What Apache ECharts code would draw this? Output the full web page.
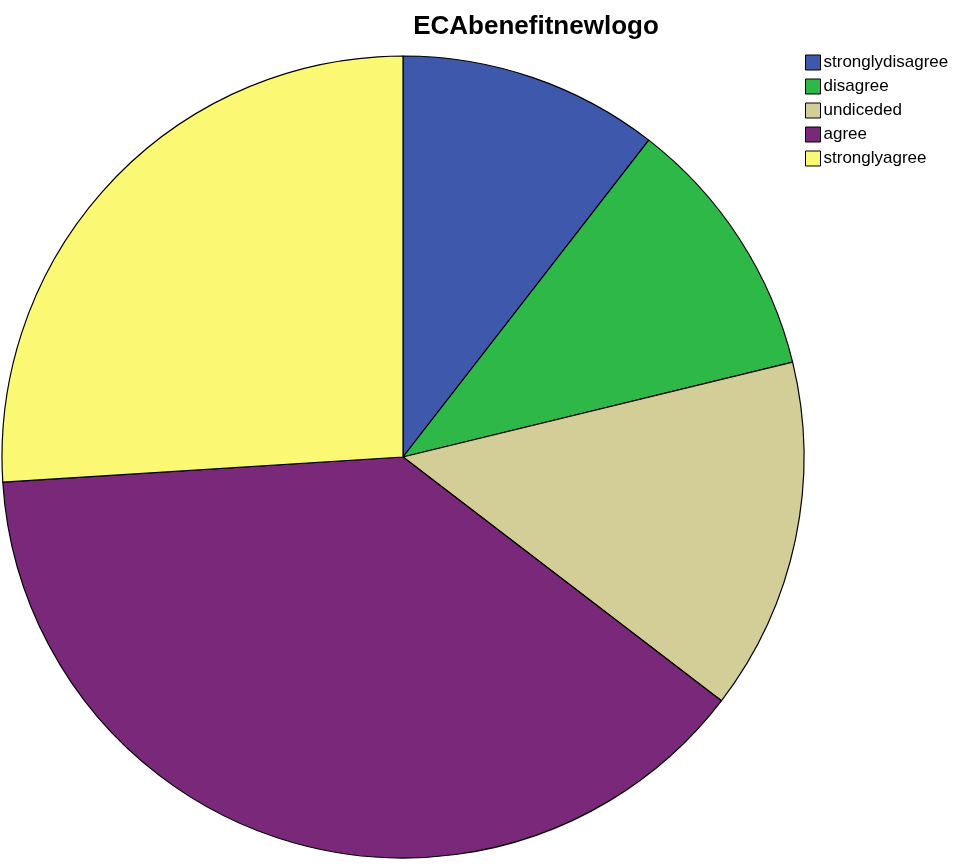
<!DOCTYPE html>
<html>
<head>
<meta charset="utf-8">
<script src="https://cdn.jsdelivr.net/npm/echarts@6/dist/echarts.min.js"></script>
<style>
html, body { margin: 0; padding: 0; background: #fff; }
#mainContent { width: 965px; height: 867px; }
</style>
</head>
<body>
<div id="mainContent"></div>
<script>
// categories and percentages
var categories = ['stronglydisagree', 'disagree', 'undiceded', 'agree', 'stronglyagree'];
var values = [10.5, 10.7, 14.2, 38.6, 26.0];
var colors = ['#3E58AC', '#2EB848', '#D3CE97', '#7A287A', '#FBF873'];

var myChart = echarts.init(document.getElementById('mainContent'));

var data = [];
for (var i = 0; i < categories.length; i++) {
    data.push({
        name: categories[i],
        value: values[i],
        itemStyle: { color: colors[i] }
    });
}

option = {
    animation: false,
    title: {
        text: 'ECAbenefitnewlogo',
        left: 531,
        top: 9,
        textAlign: 'center',
        textStyle: {
            fontFamily: 'Liberation Sans, Arial, sans-serif',
            fontSize: 26,
            fontWeight: 'bold',
            color: '#000'
        }
    },
    legend: {
        orient: 'vertical',
        left: 800,
        top: 49,
        icon: 'rect',
        itemWidth: 15,
        itemHeight: 15,
        itemGap: 7,
        selectedMode: false,
        itemStyle: {
            borderColor: '#000',
            borderWidth: 1
        },
        textStyle: {
            fontFamily: 'Liberation Sans, Arial, sans-serif',
            fontSize: 17,
            color: '#000',
            padding: [0, 0, 0, -2]
        },
        data: categories
    },
    series: [{
        type: 'pie',
        center: [403, 457],
        radius: 401,
        startAngle: 90,
        clockwise: true,
        label: { show: false },
        labelLine: { show: false },
        emphasis: { disabled: true },
        itemStyle: {
            borderColor: '#000',
            borderWidth: 1.2
        },
        data: data
    }]
};

myChart.setOption(option);
</script>
</body>
</html>
